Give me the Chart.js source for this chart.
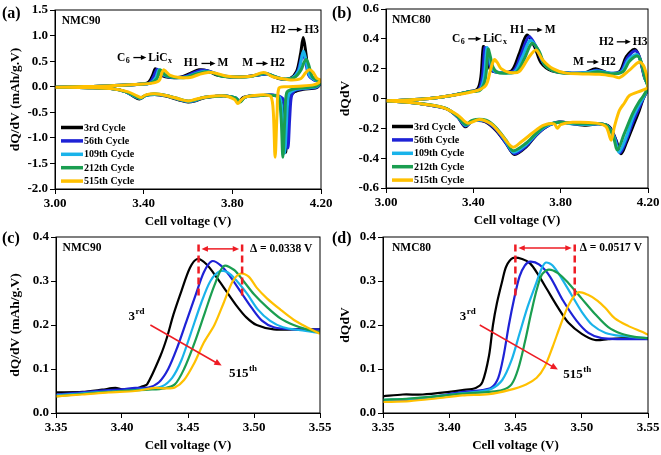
<!DOCTYPE html>
<html>
<head>
<meta charset="utf-8">
<script src="https://cdn.jsdelivr.net/npm/chart.js"></script>
<style>
  html, body { margin: 0; padding: 0; background: #fff; }
  #wrap { position: relative; width: 661px; height: 455px; overflow: hidden; background: #fff; }
  #wrap canvas { position: absolute; left: 0; top: 0; }
  .tag { position: absolute; font: bold 16px 'Liberation Serif', 'Times New Roman', serif; line-height: 18px; color: #000; }
</style>
</head>
<body>
<div id="wrap">
  <canvas id="chartA" width="661" height="455"></canvas>
  <canvas id="chartB" width="661" height="455"></canvas>
  <canvas id="chartC" width="661" height="455"></canvas>
  <canvas id="chartD" width="661" height="455"></canvas>
  <div class="tag" style="left:2px;top:4px">(a)</div>
  <div class="tag" style="left:332px;top:4px">(b)</div>
  <div class="tag" style="left:2px;top:229px">(c)</div>
  <div class="tag" style="left:332px;top:229px">(d)</div>
</div>
<script>
// ---------- series / labels ----------
const serif = "'Liberation Serif', 'Times New Roman', serif";
const cycleNames = ['3rd Cycle', '56th Cycle', '109th Cycle', '212th Cycle', '515th Cycle'];
const cycleColors = ['#000000', '#1e22d6', '#19b3ea', '#1a9e50', '#ffc000'];

// (a) NMC90 full window: [voltage, dQ/dV], charge then discharge
const a3 = [[3.00,-0.01],[3.10,0.00],[3.20,0.01],[3.30,0.03],[3.38,0.05],[3.42,0.08],[3.44,0.22],[3.452,0.35],[3.465,0.29],[3.48,0.22],[3.52,0.18],[3.57,0.19],[3.61,0.26],[3.65,0.33],[3.69,0.31],[3.73,0.23],[3.79,0.19],[3.86,0.20],[3.92,0.23],[3.955,0.25],[3.98,0.21],[4.02,0.15],[4.06,0.16],[4.09,0.30],[4.108,0.65],[4.12,0.96],[4.132,0.65],[4.145,0.25],[4.17,0.13],[4.20,0.10],
  [4.18,-0.02],[4.12,-0.05],[4.08,-0.10],[4.06,-0.22],[4.05,-0.70],[4.04,-1.28],[4.03,-0.60],[4.018,-0.25],[3.99,-0.17],[3.94,-0.17],[3.88,-0.18],[3.85,-0.21],[3.83,-0.28],[3.81,-0.22],[3.77,-0.18],[3.72,-0.19],[3.67,-0.22],[3.63,-0.28],[3.60,-0.30],[3.56,-0.26],[3.50,-0.18],[3.45,-0.15],[3.41,-0.17],[3.38,-0.24],[3.355,-0.19],[3.32,-0.10],[3.26,-0.04],[3.15,-0.02],[3.00,-0.01]];
const a56 = [[3.00,-0.01],[3.10,0.00],[3.20,0.01],[3.30,0.03],[3.38,0.05],[3.425,0.07],[3.447,0.22],[3.46,0.34],[3.473,0.29],[3.49,0.22],[3.53,0.18],[3.58,0.19],[3.62,0.26],[3.66,0.32],[3.70,0.30],[3.74,0.23],[3.80,0.19],[3.87,0.20],[3.93,0.24],[3.96,0.25],[3.99,0.20],[4.03,0.15],[4.07,0.17],[4.095,0.30],[4.108,0.50],[4.118,0.66],[4.13,0.50],[4.145,0.22],[4.17,0.13],[4.20,0.10],
  [4.18,-0.01],[4.12,-0.04],[4.08,-0.08],[4.066,-0.20],[4.059,-0.60],[4.051,-1.20],[4.042,-0.60],[4.03,-0.25],[4.00,-0.17],[3.94,-0.17],[3.88,-0.18],[3.855,-0.21],[3.835,-0.28],[3.815,-0.22],[3.77,-0.18],[3.72,-0.19],[3.67,-0.21],[3.63,-0.27],[3.60,-0.29],[3.56,-0.25],[3.50,-0.17],[3.45,-0.15],[3.41,-0.17],[3.385,-0.23],[3.36,-0.19],[3.32,-0.10],[3.26,-0.04],[3.15,-0.02],[3.00,-0.01]];
const a109 = [[3.00,-0.01],[3.10,0.00],[3.20,0.01],[3.30,0.03],[3.38,0.05],[3.43,0.07],[3.455,0.18],[3.468,0.33],[3.48,0.28],[3.50,0.21],[3.54,0.18],[3.59,0.19],[3.63,0.25],[3.67,0.30],[3.71,0.28],[3.75,0.22],[3.81,0.19],[3.88,0.20],[3.935,0.25],[3.96,0.25],[3.99,0.20],[4.03,0.15],[4.07,0.17],[4.10,0.32],[4.112,0.55],[4.121,0.70],[4.131,0.55],[4.148,0.22],[4.17,0.14],[4.20,0.10],
  [4.18,0.00],[4.12,-0.03],[4.08,-0.06],[4.055,-0.15],[4.046,-0.60],[4.036,-1.30],[4.027,-0.60],[4.015,-0.22],[3.99,-0.17],[3.94,-0.17],[3.88,-0.18],[3.855,-0.21],[3.835,-0.29],[3.815,-0.22],[3.77,-0.18],[3.72,-0.19],[3.67,-0.21],[3.63,-0.27],[3.60,-0.29],[3.56,-0.25],[3.50,-0.17],[3.45,-0.15],[3.41,-0.17],[3.385,-0.23],[3.36,-0.19],[3.32,-0.10],[3.26,-0.04],[3.15,-0.02],[3.00,-0.01]];
const a212 = [[3.00,-0.01],[3.10,0.00],[3.20,0.01],[3.30,0.03],[3.38,0.05],[3.43,0.07],[3.46,0.16],[3.473,0.33],[3.486,0.28],[3.50,0.22],[3.54,0.18],[3.59,0.18],[3.63,0.24],[3.675,0.29],[3.71,0.27],[3.75,0.21],[3.81,0.19],[3.88,0.20],[3.935,0.26],[3.955,0.26],[3.99,0.20],[4.03,0.15],[4.08,0.18],[4.11,0.33],[4.125,0.49],[4.135,0.53],[4.145,0.42],[4.16,0.20],[4.18,0.13],[4.20,0.10],
  [4.18,0.01],[4.12,-0.02],[4.07,-0.05],[4.045,-0.12],[4.037,-0.60],[4.028,-1.38],[4.02,-0.60],[4.008,-0.20],[3.98,-0.17],[3.94,-0.17],[3.88,-0.18],[3.855,-0.21],[3.835,-0.30],[3.815,-0.22],[3.77,-0.18],[3.72,-0.19],[3.67,-0.21],[3.63,-0.26],[3.60,-0.28],[3.56,-0.24],[3.50,-0.17],[3.45,-0.14],[3.41,-0.17],[3.385,-0.22],[3.36,-0.18],[3.32,-0.10],[3.26,-0.04],[3.15,-0.02],[3.00,-0.01]];
const a515 = [[3.00,-0.01],[3.10,0.00],[3.20,0.01],[3.30,0.03],[3.38,0.05],[3.44,0.07],[3.47,0.12],[3.482,0.27],[3.49,0.33],[3.50,0.30],[3.52,0.22],[3.56,0.18],[3.61,0.18],[3.65,0.24],[3.69,0.28],[3.73,0.26],[3.77,0.21],[3.83,0.19],[3.89,0.21],[3.93,0.27],[3.95,0.27],[3.98,0.20],[4.02,0.16],[4.07,0.13],[4.11,0.16],[4.13,0.27],[4.148,0.33],[4.165,0.28],[4.18,0.17],[4.20,0.12],
  [4.17,0.04],[4.10,0.01],[4.04,0.00],[4.01,-0.03],[4.002,-0.50],[3.993,-1.38],[3.985,-0.50],[3.975,-0.20],[3.95,-0.16],[3.90,-0.17],[3.86,-0.20],[3.84,-0.26],[3.825,-0.33],[3.81,-0.25],[3.77,-0.18],[3.72,-0.18],[3.67,-0.21],[3.63,-0.25],[3.60,-0.28],[3.56,-0.24],[3.50,-0.17],[3.45,-0.14],[3.41,-0.16],[3.39,-0.21],[3.37,-0.18],[3.33,-0.10],[3.26,-0.04],[3.15,-0.02],[3.00,-0.01]];

// (b) NMC80 full window
const b3 = [[3.00,-0.015],[3.10,-0.01],[3.20,0.00],[3.30,0.02],[3.38,0.045],[3.42,0.065],[3.435,0.15],[3.446,0.348],[3.458,0.30],[3.468,0.24],[3.48,0.19],[3.52,0.175],[3.575,0.185],[3.61,0.30],[3.645,0.425],[3.68,0.35],[3.71,0.24],[3.76,0.185],[3.84,0.17],[3.915,0.175],[3.96,0.20],[4.02,0.17],[4.07,0.18],[4.10,0.28],[4.138,0.33],[4.16,0.28],[4.183,0.146],[4.20,0.078],
  [4.176,-0.01],[4.16,-0.08],[4.13,-0.19],[4.10,-0.30],[4.077,-0.37],[4.054,-0.28],[4.023,-0.19],[3.977,-0.17],[3.916,-0.18],[3.855,-0.17],[3.794,-0.158],[3.733,-0.19],[3.687,-0.247],[3.641,-0.326],[3.588,-0.375],[3.55,-0.30],[3.504,-0.214],[3.458,-0.158],[3.412,-0.146],[3.39,-0.155],[3.363,-0.19],[3.328,-0.124],[3.275,-0.068],[3.153,-0.034],[3.00,-0.015]];
const b56 = [[3.00,-0.015],[3.10,-0.01],[3.20,0.00],[3.30,0.02],[3.38,0.045],[3.425,0.06],[3.442,0.15],[3.453,0.34],[3.465,0.29],[3.475,0.23],[3.49,0.185],[3.53,0.175],[3.585,0.185],[3.62,0.30],[3.655,0.415],[3.69,0.34],[3.72,0.24],[3.77,0.185],[3.85,0.17],[3.92,0.175],[3.965,0.19],[4.025,0.17],[4.075,0.18],[4.105,0.27],[4.142,0.32],[4.163,0.27],[4.185,0.14],[4.20,0.078],
  [4.178,0.00],[4.16,-0.06],[4.13,-0.16],[4.10,-0.28],[4.072,-0.365],[4.05,-0.27],[4.02,-0.19],[3.975,-0.17],[3.916,-0.175],[3.855,-0.17],[3.794,-0.158],[3.733,-0.19],[3.687,-0.245],[3.641,-0.32],[3.588,-0.37],[3.55,-0.30],[3.504,-0.21],[3.458,-0.155],[3.412,-0.145],[3.39,-0.155],[3.363,-0.185],[3.328,-0.124],[3.275,-0.068],[3.153,-0.034],[3.00,-0.015]];
const b109 = [[3.00,-0.015],[3.10,-0.01],[3.20,0.00],[3.30,0.02],[3.38,0.045],[3.43,0.06],[3.45,0.15],[3.462,0.34],[3.472,0.29],[3.483,0.22],[3.50,0.18],[3.54,0.172],[3.59,0.18],[3.625,0.28],[3.66,0.39],[3.695,0.33],[3.725,0.23],[3.78,0.18],[3.85,0.17],[3.92,0.175],[3.965,0.185],[4.03,0.17],[4.08,0.18],[4.11,0.26],[4.148,0.295],[4.167,0.25],[4.187,0.13],[4.20,0.078],
  [4.18,0.01],[4.16,-0.04],[4.13,-0.13],[4.10,-0.26],[4.067,-0.36],[4.045,-0.26],[4.015,-0.185],[3.975,-0.17],[3.916,-0.175],[3.855,-0.17],[3.794,-0.16],[3.733,-0.185],[3.687,-0.24],[3.641,-0.31],[3.585,-0.36],[3.55,-0.29],[3.504,-0.20],[3.458,-0.15],[3.412,-0.145],[3.39,-0.155],[3.365,-0.18],[3.328,-0.12],[3.275,-0.066],[3.153,-0.034],[3.00,-0.015]];
const b212 = [[3.00,-0.015],[3.10,-0.01],[3.20,0.00],[3.30,0.02],[3.38,0.045],[3.43,0.055],[3.455,0.13],[3.468,0.33],[3.478,0.28],[3.49,0.21],[3.51,0.175],[3.55,0.17],[3.60,0.18],[3.635,0.27],[3.668,0.37],[3.70,0.32],[3.73,0.22],[3.79,0.175],[3.86,0.168],[3.93,0.17],[3.97,0.18],[4.03,0.165],[4.085,0.18],[4.115,0.25],[4.152,0.285],[4.17,0.24],[4.188,0.13],[4.20,0.078],
  [4.18,0.02],[4.16,-0.02],[4.13,-0.10],[4.09,-0.24],[4.06,-0.345],[4.04,-0.25],[4.01,-0.18],[3.97,-0.168],[3.916,-0.17],[3.855,-0.165],[3.794,-0.16],[3.733,-0.18],[3.687,-0.235],[3.641,-0.30],[3.582,-0.35],[3.55,-0.28],[3.50,-0.19],[3.458,-0.145],[3.412,-0.14],[3.39,-0.15],[3.365,-0.175],[3.328,-0.12],[3.275,-0.066],[3.153,-0.034],[3.00,-0.015]];
const b515 = [[3.00,-0.015],[3.10,-0.01],[3.20,0.00],[3.30,0.02],[3.41,0.05],[3.458,0.09],[3.48,0.20],[3.496,0.26],[3.51,0.24],[3.527,0.20],[3.565,0.175],[3.61,0.18],[3.656,0.28],[3.687,0.325],[3.717,0.26],[3.764,0.20],[3.825,0.17],[3.90,0.165],[3.977,0.162],[4.04,0.15],[4.07,0.14],[4.115,0.19],[4.16,0.245],[4.183,0.21],[4.20,0.078],
  [4.176,0.056],[4.115,0.02],[4.092,-0.03],[4.069,-0.08],[4.046,-0.19],[4.031,-0.28],[4.008,-0.19],[3.962,-0.165],[3.855,-0.16],[3.80,-0.175],[3.785,-0.20],[3.77,-0.17],[3.72,-0.18],[3.672,-0.23],[3.62,-0.29],[3.58,-0.326],[3.527,-0.24],[3.481,-0.17],[3.428,-0.14],[3.374,-0.165],[3.328,-0.11],[3.26,-0.06],[3.153,-0.034],[3.00,-0.015]];

// (c) NMC90 close-up of the C6 -> LiCx peak
const c3 = [[3.35,0.047],[3.37,0.048],[3.385,0.053],[3.395,0.057],[3.40,0.054],[3.41,0.055],[3.415,0.06],[3.419,0.065],[3.429,0.129],[3.434,0.171],[3.439,0.224],[3.445,0.277],[3.4515,0.33],[3.457,0.35],[3.464,0.338],[3.472,0.307],[3.479,0.277],[3.487,0.243],[3.494,0.218],[3.502,0.20],[3.515,0.19],[3.53,0.19],[3.55,0.19]];
const c56 = [[3.35,0.042],[3.38,0.05],[3.40,0.054],[3.41,0.057],[3.42,0.058],[3.428,0.07],[3.435,0.10],[3.442,0.15],[3.449,0.21],[3.456,0.27],[3.462,0.32],[3.468,0.345],[3.475,0.335],[3.482,0.31],[3.49,0.275],[3.498,0.24],[3.506,0.21],[3.515,0.195],[3.53,0.19],[3.55,0.19]];
const c109 = [[3.35,0.04],[3.38,0.047],[3.40,0.05],[3.42,0.055],[3.43,0.06],[3.438,0.08],[3.445,0.12],[3.452,0.18],[3.46,0.25],[3.467,0.30],[3.474,0.322],[3.48,0.32],[3.487,0.30],[3.495,0.27],[3.503,0.235],[3.512,0.21],[3.522,0.195],[3.535,0.188],[3.55,0.182]];
const c212 = [[3.35,0.038],[3.38,0.046],[3.40,0.05],[3.42,0.053],[3.432,0.056],[3.44,0.065],[3.447,0.10],[3.455,0.16],[3.463,0.23],[3.47,0.29],[3.477,0.334],[3.485,0.325],[3.492,0.30],[3.50,0.27],[3.51,0.24],[3.52,0.215],[3.53,0.20],[3.54,0.19],[3.55,0.183]];
const c515 = [[3.35,0.038],[3.37,0.042],[3.39,0.047],[3.41,0.05],[3.425,0.057],[3.433,0.056],[3.44,0.058],[3.447,0.075],[3.455,0.115],[3.462,0.16],[3.47,0.20],[3.477,0.25],[3.484,0.30],[3.49,0.317],[3.496,0.31],[3.502,0.285],[3.51,0.26],[3.52,0.235],[3.53,0.212],[3.54,0.195],[3.55,0.18]];

// (d) NMC80 close-up of the C6 -> LiCx peak
const d3 = [[3.35,0.038],[3.365,0.042],[3.38,0.042],[3.40,0.048],[3.41,0.052],[3.42,0.057],[3.425,0.07],[3.43,0.13],[3.433,0.20],[3.436,0.25],[3.44,0.30],[3.443,0.333],[3.448,0.352],[3.455,0.35],[3.461,0.34],[3.467,0.315],[3.474,0.28],[3.482,0.24],[3.49,0.205],[3.50,0.18],[3.51,0.166],[3.52,0.168],[3.535,0.17],[3.55,0.17]];
const d56 = [[3.35,0.028],[3.37,0.03],[3.39,0.038],[3.41,0.048],[3.425,0.052],[3.432,0.058],[3.437,0.08],[3.441,0.13],[3.445,0.20],[3.449,0.26],[3.453,0.31],[3.457,0.335],[3.461,0.344],[3.468,0.337],[3.476,0.31],[3.486,0.255],[3.496,0.21],[3.505,0.182],[3.515,0.17],[3.53,0.168],[3.55,0.168]];
const d109 = [[3.35,0.03],[3.37,0.032],[3.39,0.038],[3.41,0.045],[3.425,0.05],[3.432,0.055],[3.44,0.075],[3.447,0.12],[3.453,0.18],[3.459,0.24],[3.465,0.29],[3.47,0.33],[3.473,0.342],[3.478,0.335],[3.485,0.305],[3.492,0.27],[3.50,0.23],[3.508,0.20],[3.518,0.182],[3.53,0.175],[3.55,0.17]];
const d212 = [[3.35,0.03],[3.37,0.033],[3.39,0.038],[3.41,0.044],[3.43,0.048],[3.44,0.052],[3.447,0.065],[3.452,0.10],[3.457,0.16],[3.462,0.23],[3.466,0.28],[3.47,0.315],[3.475,0.326],[3.482,0.318],[3.49,0.295],[3.50,0.26],[3.51,0.225],[3.52,0.195],[3.53,0.18],[3.54,0.173],[3.55,0.17]];
const d515 = [[3.35,0.025],[3.37,0.027],[3.39,0.033],[3.41,0.04],[3.43,0.043],[3.445,0.052],[3.458,0.065],[3.466,0.08],[3.472,0.105],[3.478,0.15],[3.484,0.20],[3.49,0.245],[3.497,0.274],[3.505,0.268],[3.512,0.255],[3.518,0.238],[3.525,0.215],[3.535,0.198],[3.545,0.185],[3.55,0.178]];

// ticks
const fullXTicks = [3.0, 3.4, 3.8, 4.2];
const fullXLabels = ['3.00', '3.40', '3.80', '4.20'];
const aYTicks = [-2.0, -1.5, -1.0, -0.5, 0.0, 0.5, 1.0, 1.5];
const aYLabels = ['-2.0', '-1.5', '-1.0', '-0.5', '0.0', '0.5', '1.0', '1.5'];
const bYTicks = [-0.6, -0.4, -0.2, 0, 0.2, 0.4, 0.6];
const bYLabels = ['-0.6', '-0.4', '-0.2', '0', '0.2', '0.4', '0.6'];
const zoomXTicks = [3.35, 3.40, 3.45, 3.50, 3.55];
const zoomXLabels = ['3.35', '3.40', '3.45', '3.50', '3.55'];
const zoomYTicks = [0.0, 0.1, 0.2, 0.3, 0.4];
const zoomYLabels = ['0.0', '0.1', '0.2', '0.3', '0.4'];

// annotations (text parts: plain string, ['sub',..], ['sup',..], ['arrow', length])
const aNotes = [
  { x: 3.03, y: 1.29, parts: ['NMC90'] },
  { x: 3.28, y: 0.57, parts: ['C', ['sub', '6'], ['arrow', 18], 'LiC', ['sub', 'x']] },
  { x: 3.581, y: 0.455, parts: ['H1', ['arrow', 19], 'M'] },
  { x: 3.845, y: 0.455, parts: ['M', ['arrow', 17], 'H2'] },
  { x: 3.973, y: 1.117, parts: ['H2', ['arrow', 19], 'H3'] }
];
const bNotes = [
  { x: 3.027, y: 0.528, parts: ['NMC80'] },
  { x: 3.302, y: 0.40, parts: ['C', ['sub', '6'], ['arrow', 18], 'LiC', ['sub', 'x']] },
  { x: 3.568, y: 0.46, parts: ['H1', ['arrow', 20], 'M'] },
  { x: 3.857, y: 0.245, parts: ['M', ['arrow', 17], 'H2'] },
  { x: 3.976, y: 0.38, parts: ['H2', ['arrow', 19], 'H3'] }
];
const cNotes = [
  { x: 3.355, y: 0.375, parts: ['NMC90'] },
  { x: 3.497, y: 0.373, parts: ['\u0394 = 0.0338 V'] },
  { x: 3.405, y: 0.218, parts: ['3', ['sup', 'rd']], size: 13 },
  { x: 3.481, y: 0.09, parts: ['515', ['sup', 'th']], size: 13 }
];
const dNotes = [
  { x: 3.3568, y: 0.375, parts: ['NMC80'] },
  { x: 3.4984, y: 0.375, parts: ['\u0394 = 0.0517 V'] },
  { x: 3.408, y: 0.218, parts: ['3', ['sup', 'rd']], size: 13 },
  { x: 3.486, y: 0.088, parts: ['515', ['sup', 'th']], size: 13 }
];
// peak shift markers: [left V, right V, top, bottom, arrow y], trend arrow [x1, y1, x2, y2]
const cShift = [3.458, 3.491, 0.383, 0.258, 0.373];
const cTrend = [3.4215, 0.20, 3.4755, 0.108];
const dShift = [3.4499, 3.4947, 0.383, 0.262, 0.375];
const dTrend = [3.423, 0.20, 3.482, 0.099];

// ---------- drawing helpers ----------
Chart.defaults.font.family = serif;
Chart.defaults.font.weight = 'bold';
Chart.defaults.color = '#000';

function arrowHead(ctx, x1, y1, x2, y2, size) {
  const a = Math.atan2(y2 - y1, x2 - x1);
  ctx.beginPath();
  ctx.moveTo(x2, y2);
  ctx.lineTo(x2 - size * Math.cos(a - 0.42), y2 - size * Math.sin(a - 0.42));
  ctx.lineTo(x2 - size * Math.cos(a + 0.42), y2 - size * Math.sin(a + 0.42));
  ctx.closePath();
  ctx.fill();
}

function drawRich(ctx, x, y, parts, size) {
  ctx.textBaseline = 'middle';
  ctx.textAlign = 'left';
  ctx.fillStyle = '#000';
  ctx.strokeStyle = '#000';
  parts.forEach(p => {
    if (typeof p === 'string') {
      ctx.font = `bold ${size}px ${serif}`;
      ctx.fillText(p, x, y);
      x += ctx.measureText(p).width;
    } else if (p[0] === 'sub' || p[0] === 'sup') {
      const s = Math.round(size * 0.68);
      ctx.font = `bold ${s}px ${serif}`;
      const dy = p[0] === 'sub' ? size * 0.3 : -size * 0.38;
      ctx.fillText(p[1], x + 0.5, y + dy);
      x += ctx.measureText(p[1]).width + 1;
    } else if (p[0] === 'arrow') {
      const len = p[1];
      ctx.lineWidth = 1.3;
      ctx.beginPath();
      ctx.moveTo(x + 3, y);
      ctx.lineTo(x + len - 5, y);
      ctx.stroke();
      arrowHead(ctx, x + 3, y, x + len - 2, y, 6);
      x += len;
    }
  });
}

function decorPlugin(cfg) {
  return {
    id: 'decor',
    afterDatasetsDraw(chart) {
      const { ctx, chartArea: area, scales: { x, y } } = chart;
      ctx.save();
      // plot frame
      ctx.strokeStyle = '#000';
      ctx.lineWidth = 1;
      ctx.strokeRect(area.left, area.top, area.right - area.left, area.bottom - area.top);

      // red peak-shift markers
      if (cfg.shift) {
        const [lo, hi, top, bot, ay] = cfg.shift;
        ctx.strokeStyle = '#ee1c24';
        ctx.fillStyle = '#ee1c24';
        ctx.lineWidth = 2.5;
        ctx.setLineDash([7, 4]);
        [lo, hi].forEach(v => {
          ctx.beginPath();
          ctx.moveTo(x.getPixelForValue(v), y.getPixelForValue(top));
          ctx.lineTo(x.getPixelForValue(v), y.getPixelForValue(bot));
          ctx.stroke();
        });
        ctx.setLineDash([]);
        const x1 = x.getPixelForValue(lo) + 3, x2 = x.getPixelForValue(hi) - 3, py = y.getPixelForValue(ay);
        ctx.lineWidth = 1.5;
        ctx.beginPath();
        ctx.moveTo(x1 + 4, py);
        ctx.lineTo(x2 - 4, py);
        ctx.stroke();
        arrowHead(ctx, x2, py, x1, py, 7);
        arrowHead(ctx, x1, py, x2, py, 7);

        const [tx1, ty1, tx2, ty2] = cfg.trend;
        const p1 = [x.getPixelForValue(tx1), y.getPixelForValue(ty1)];
        const p2 = [x.getPixelForValue(tx2), y.getPixelForValue(ty2)];
        ctx.lineWidth = 1.5;
        ctx.beginPath();
        ctx.moveTo(p1[0], p1[1]);
        ctx.lineTo(p2[0] - 4, p2[1] - 2);
        ctx.stroke();
        arrowHead(ctx, p1[0], p1[1], p2[0], p2[1], 8);
      }

      // text notes
      cfg.notes.forEach(n => {
        drawRich(ctx, x.getPixelForValue(n.x), y.getPixelForValue(n.y), n.parts, n.size || 11.5);
      });

      // legend inside the plot
      if (cfg.legend) {
        const lx = area.left + 6;
        cycleNames.forEach((name, i) => {
          const ly = area.bottom - 61.5 + i * 13.4;
          ctx.strokeStyle = cycleColors[i];
          ctx.lineWidth = 3.5;
          ctx.beginPath();
          ctx.moveTo(lx, ly);
          ctx.lineTo(lx + cfg.legend, ly);
          ctx.stroke();
          ctx.fillStyle = '#000';
          ctx.font = `bold 10px ${serif}`;
          ctx.textBaseline = 'middle';
          ctx.textAlign = 'left';
          ctx.fillText(name, lx + cfg.legend + 1, ly + 0.5);
        });
      }
      ctx.restore();
    }
  };
}

function lineSets(series, width) {
  return series.map((pts, i) => ({
    label: cycleNames[i],
    data: pts.map(p => ({ x: p[0], y: p[1] })),
    borderColor: cycleColors[i],
    borderWidth: width,
    pointRadius: 0,
    tension: 0.3,
    fill: false,
    order: series.length - i
  }));
}

function axis(pos, min, max, ticks, labels, title, size, titleSize, titlePad) {
  return {
    type: 'linear',
    position: pos,
    min: min,
    max: max,
    afterBuildTicks: s => { s.ticks = ticks.map(v => ({ value: v })); },
    afterFit: s => {
      if (pos === 'left') s.width = size; else s.height = size;
      s.paddingLeft = 0; s.paddingRight = 0; s.paddingTop = 0; s.paddingBottom = 0;
    },
    ticks: {
      callback: (v, i) => labels[i],
      autoSkip: false,
      maxRotation: 0,
      padding: 2,
      color: '#000',
      font: { size: 13, weight: 'bold', family: serif }
    },
    grid: { drawOnChartArea: false, drawTicks: true, tickLength: 5, color: '#000' },
    border: { display: true, color: '#000', width: 1 },
    title: {
      display: true,
      text: title,
      color: '#000',
      font: { size: titleSize, weight: 'bold', family: serif, lineHeight: 1.2 },
      padding: titlePad
    }
  };
}

// box: page pixels of the plot area, plus panel left edge
function makeChart(id, box, sets, xScale, yScale, decor) {
  return new Chart(document.getElementById(id), {
    type: 'line',
    data: { datasets: sets },
    options: {
      responsive: false,
      animation: false,
      devicePixelRatio: 1,
      layout: {
        padding: {
          left: box.panel,
          top: box.top,
          right: 661 - box.right,
          bottom: 455 - box.bottom - 40
        }
      },
      scales: { x: xScale, y: yScale },
      plugins: { legend: { display: false }, tooltip: { enabled: false } }
    },
    plugins: [decorPlugin(decor)]
  });
}

makeChart('chartA', { panel: 0, top: 10, right: 321, bottom: 189 },
  lineSets([a3, a56, a109, a212, a515], 3),
  axis('bottom', 3.0, 4.2, fullXTicks, fullXLabels, 'Cell voltage (V)', 40, 13, { top: 0, bottom: 0 }),
  axis('left', -2.0, 1.5, aYTicks, aYLabels, 'dQ/dV (mAh/g.V)', 55, 13.5, { top: 7, bottom: 0 }),
  { notes: aNotes, legend: 22 });

makeChart('chartB', { panel: 330, top: 9, right: 648, bottom: 188 },
  lineSets([b3, b56, b109, b212, b515], 3),
  axis('bottom', 3.0, 4.2, fullXTicks, fullXLabels, 'Cell voltage (V)', 40, 13, { top: 0, bottom: 0 }),
  axis('left', -0.6, 0.6, bYTicks, bYLabels, 'dQdV', 56, 13.5, { top: 7, bottom: 0 }),
  { notes: bNotes, legend: 21 });

makeChart('chartC', { panel: 0, top: 237, right: 320, bottom: 413 },
  lineSets([c3, c56, c109, c212, c515], 2.2),
  axis('bottom', 3.35, 3.55, zoomXTicks, zoomXLabels, 'Cell voltage (V)', 40, 13, { top: 0, bottom: 0 }),
  axis('left', 0, 0.4, zoomYTicks, zoomYLabels, 'dQ/dV (mAh/g.V)', 56, 13.5, { top: 7, bottom: 0 }),
  { notes: cNotes, shift: cShift, trend: cTrend });

makeChart('chartD', { panel: 330, top: 237, right: 648, bottom: 413 },
  lineSets([d3, d56, d109, d212, d515], 2.2),
  axis('bottom', 3.35, 3.55, zoomXTicks, zoomXLabels, 'Cell voltage (V)', 40, 13, { top: 0, bottom: 0 }),
  axis('left', 0, 0.4, zoomYTicks, zoomYLabels, 'dQdV', 53, 13.5, { top: 7, bottom: 0 }),
  { notes: dNotes, shift: dShift, trend: dTrend });
</script>
</body>
</html>
